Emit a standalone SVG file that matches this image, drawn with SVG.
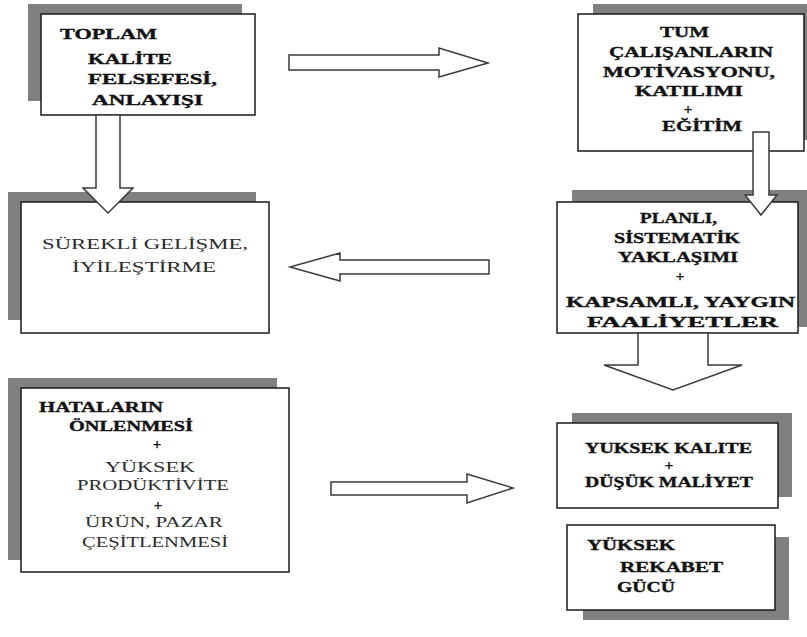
<svg xmlns="http://www.w3.org/2000/svg" width="807" height="637" viewBox="0 0 807 637">
  <style>
    .shadow { fill: #808080; }
    .box { fill: #ffffff; stroke: #1a1a1a; stroke-width: 1.5; }
    .b { font-family: "Liberation Serif", "Times New Roman", serif; font-weight: bold; font-size: 15px; fill: #111111; stroke: #111111; stroke-width: 0.35; }
    .r { font-family: "Liberation Serif", "Times New Roman", serif; font-size: 15px; fill: #2a2a2a; }
    .plus { font-family: "Liberation Serif", "Times New Roman", serif; font-weight: bold; font-size: 15px; text-anchor: middle; fill: #111111; stroke: #111111; stroke-width: 0.3; }
    .arrow { fill: #ffffff; stroke: #3a3a3a; stroke-width: 1.5; stroke-linejoin: miter; }
  </style>

  <rect width="807" height="637" fill="#ffffff"/>

  <!-- Total quality philosophy -->
  <g id="toplam-kalite">
    <rect class="shadow" x="28" y="4" width="214" height="97"/>
    <rect class="box" x="41" y="14" width="214" height="101"/>
    <text class="b" x="60" y="39" textLength="97" lengthAdjust="spacingAndGlyphs">TOPLAM</text>
    <text class="b" x="88" y="64" textLength="84" lengthAdjust="spacingAndGlyphs">KALİTE</text>
    <text class="b" x="88" y="84" textLength="129" lengthAdjust="spacingAndGlyphs">FELSEFESİ,</text>
    <text class="b" x="92" y="105" textLength="111" lengthAdjust="spacingAndGlyphs">ANLAYIŞI</text>
  </g>

  <!-- Employee motivation and training -->
  <g id="tum-calisanlar">
    <rect class="shadow" x="593" y="4" width="214" height="136"/>
    <rect class="box" x="578" y="14" width="226" height="137"/>
    <text class="b" x="660" y="37" textLength="49" lengthAdjust="spacingAndGlyphs">TUM</text>
    <text class="b" x="609" y="57" textLength="164" lengthAdjust="spacingAndGlyphs">ÇALIŞANLARIN</text>
    <text class="b" x="603" y="77" textLength="172" lengthAdjust="spacingAndGlyphs">MOTİVASYONU,</text>
    <text class="b" x="635" y="96" textLength="108" lengthAdjust="spacingAndGlyphs">KATILIMI</text>
    <text class="plus" x="688" y="113.5">+</text>
    <text class="b" x="662" y="131" textLength="80" lengthAdjust="spacingAndGlyphs">EĞİTİM</text>
  </g>

  <!-- Continuous improvement -->
  <g id="surekli-gelisme">
    <rect class="shadow" x="8" y="192" width="248" height="128"/>
    <rect class="box" x="21" y="202" width="248" height="131"/>
    <text class="r" x="42" y="249" textLength="206" lengthAdjust="spacingAndGlyphs">SÜREKLİ GELİŞME,</text>
    <text class="r" x="72" y="272" textLength="144" lengthAdjust="spacingAndGlyphs">İYİLEŞTİRME</text>
  </g>

  <!-- Planned, systematic approach -->
  <g id="planli-sistematik">
    <rect class="shadow" x="572" y="190" width="235" height="137"/>
    <rect class="box" x="557" y="202" width="241" height="131"/>
    <text class="b" x="640" y="223" textLength="77" lengthAdjust="spacingAndGlyphs">PLANLI,</text>
    <text class="b" x="614" y="243" textLength="126" lengthAdjust="spacingAndGlyphs">SİSTEMATİK</text>
    <text class="b" x="618" y="262" textLength="120" lengthAdjust="spacingAndGlyphs">YAKLAŞIMI</text>
    <text class="plus" x="680" y="281">+</text>
    <text class="b" x="566" y="307" textLength="229" lengthAdjust="spacingAndGlyphs">KAPSAMLI, YAYGIN</text>
    <text class="b" x="587" y="327" textLength="191" lengthAdjust="spacingAndGlyphs">FAALİYETLER</text>
  </g>

  <!-- Error prevention, productivity, diversification -->
  <g id="hatalarin-onlenmesi">
    <rect class="shadow" x="8" y="378" width="269" height="182"/>
    <rect class="box" x="21" y="388" width="268" height="184"/>
    <text class="b" x="39" y="412" textLength="124" lengthAdjust="spacingAndGlyphs">HATALARIN</text>
    <text class="b" x="69" y="431" textLength="124" lengthAdjust="spacingAndGlyphs">ÖNLENMESİ</text>
    <text class="plus" x="157" y="449">+</text>
    <text class="r" x="105" y="472" textLength="90" lengthAdjust="spacingAndGlyphs">YÜKSEK</text>
    <text class="r" x="77" y="490" textLength="152" lengthAdjust="spacingAndGlyphs">PRODÜKTİVİTE</text>
    <text class="plus" x="158" y="510">+</text>
    <text class="r" x="85" y="527" textLength="138" lengthAdjust="spacingAndGlyphs">ÜRÜN, PAZAR</text>
    <text class="r" x="82" y="547" textLength="146" lengthAdjust="spacingAndGlyphs">ÇEŞİTLENMESİ</text>
  </g>

  <!-- High quality, low cost -->
  <g id="yuksek-kalite">
    <rect class="shadow" x="572" y="413" width="220" height="84"/>
    <rect class="box" x="557" y="423" width="221" height="85"/>
    <text class="b" x="585" y="453" textLength="167" lengthAdjust="spacingAndGlyphs">YUKSEK KALITE</text>
    <text class="plus" x="669" y="470">+</text>
    <text class="b" x="585" y="487" textLength="168" lengthAdjust="spacingAndGlyphs">DÜŞÜK MALİYET</text>
  </g>

  <!-- Competitive strength -->
  <g id="rekabet-gucu">
    <rect class="shadow" x="583" y="537" width="206" height="83"/>
    <rect class="box" x="567" y="525" width="208" height="85"/>
    <text class="b" x="587" y="550" textLength="88" lengthAdjust="spacingAndGlyphs">YÜKSEK</text>
    <text class="b" x="620" y="572" textLength="103" lengthAdjust="spacingAndGlyphs">REKABET</text>
    <text class="b" x="617" y="592" textLength="58" lengthAdjust="spacingAndGlyphs">GÜCÜ</text>
  </g>

  <!-- Block arrows between the stages -->
  <g id="connectors">
    <path class="arrow" d="M289,55 H439 V48 L488,63 L439,77 V70 H289 Z"/>
    <path class="arrow" d="M96,115 H120 V188 H133 L108,213 L83,188 H96 Z"/>
    <path class="arrow" d="M753,132 H769 V195 H777 L761,215 L745,195 H753 Z"/>
    <path class="arrow" d="M489,260 H340 V253 L290,267 L340,281 V274 H489 Z"/>
    <path class="arrow" d="M638,333 H708 V365 H742 L673,390 L604,365 H638 Z"/>
    <path class="arrow" d="M331,482 H467 V474 L513,488 L467,503 V495 H331 Z"/>
  </g>
</svg>
